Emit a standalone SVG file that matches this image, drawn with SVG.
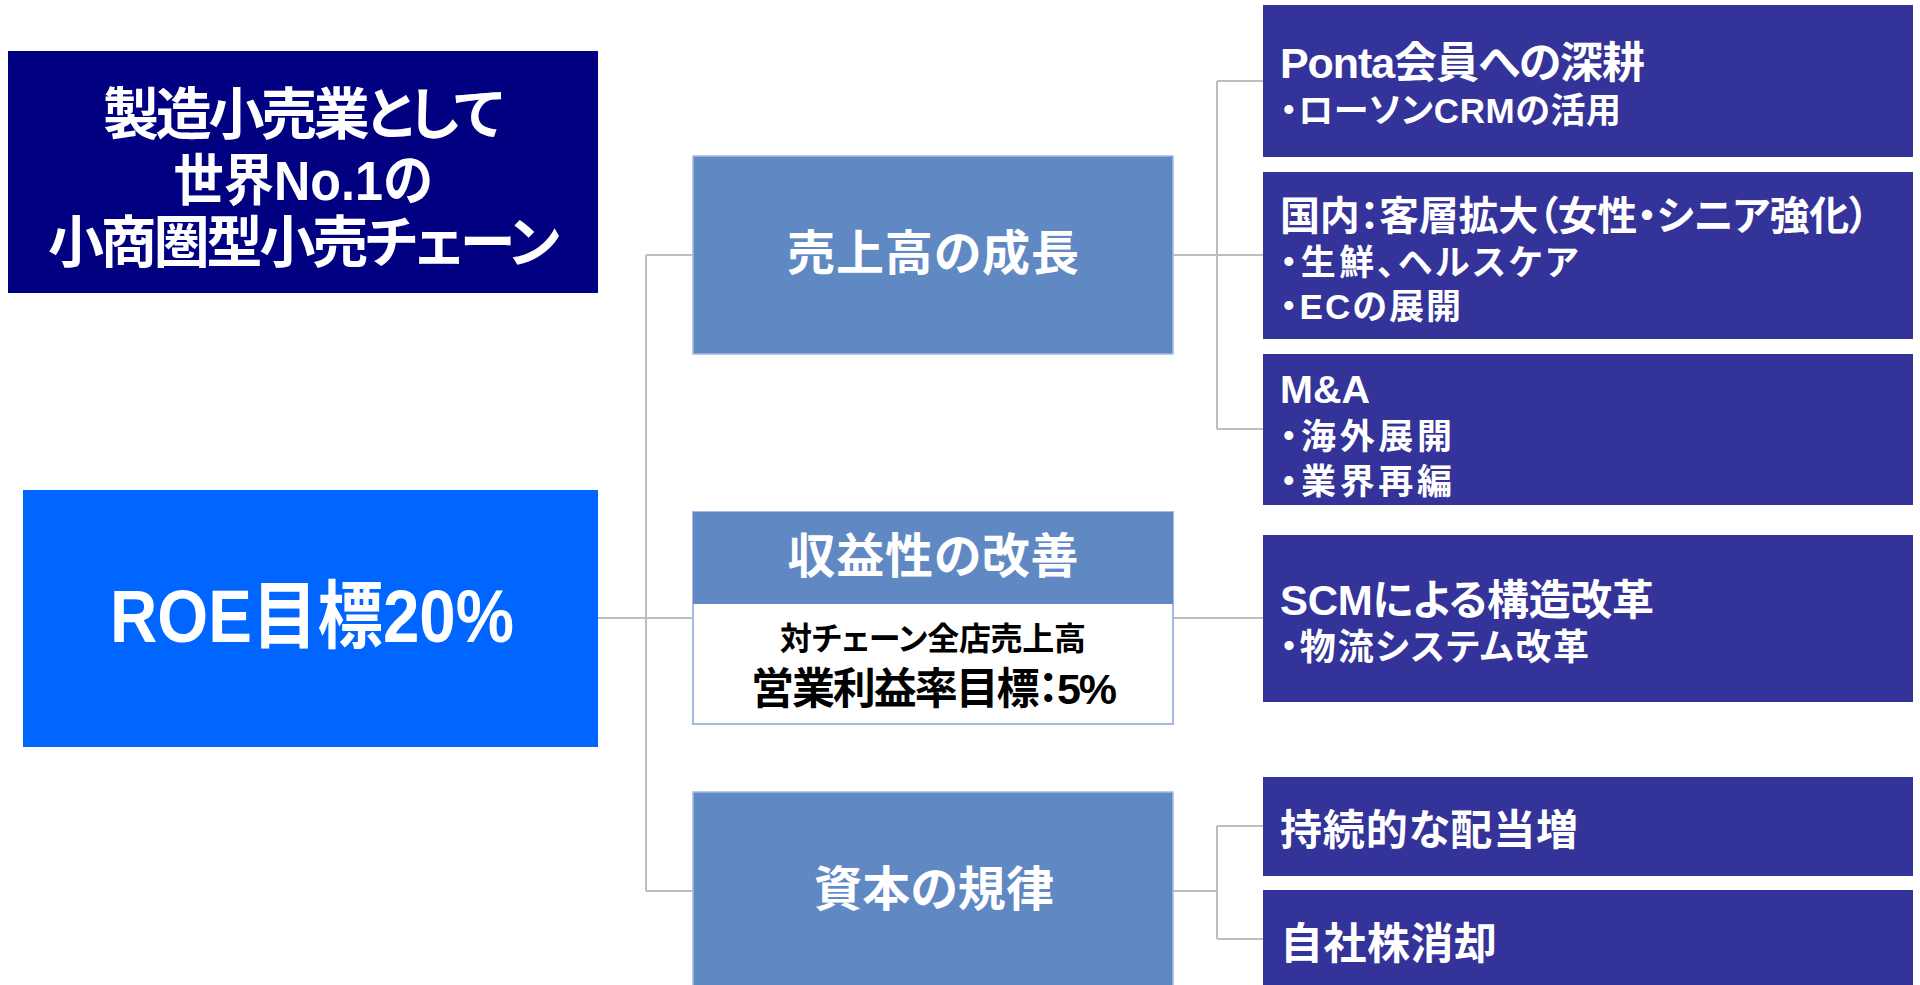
<svg xmlns="http://www.w3.org/2000/svg" width="1920" height="985" viewBox="0 0 1920 985">
<style>
text{font-family:"Liberation Sans","Noto Sans CJK JP",sans-serif;font-feature-settings:"palt";font-weight:700;fill:#fff}
.c{text-anchor:middle}
.dark{fill:#000}
.mid{fill:#6089C4;stroke:#A3BBE0;stroke-width:1.5}
.rb{fill:#343399}
.conn{fill:none;stroke:#BDBDBD;stroke-width:2}
</style>
<rect width="1920" height="985" fill="#fff"/>
<g id="connectors" class="conn">
<path d="M598,618 H646 M646,255 V891 M646,255 H693 M646,618 H693 M646,891 H693"/>
<path d="M1173,255 H1217 M1217,81 V429 M1217,81 H1263 M1217,255 H1263 M1217,429 H1263"/>
<path d="M1173,618 H1263"/>
<path d="M1173,891 H1217 M1217,826 V939 M1217,826 H1263 M1217,939 H1263"/>
</g>
<g id="vision">
<rect x="8" y="51" width="590" height="242" fill="#000080"/>
<text class="c" x="303" y="134" font-size="56" textLength="400">製造小売業として</text>
<text class="c" x="303" y="200" font-size="56" textLength="259" lengthAdjust="spacingAndGlyphs">世界No.1の</text>
<text class="c" x="304" y="262" font-size="56" textLength="512">小商圏型小売チェーン</text>
</g>
<g id="roe">
<rect x="23" y="490" width="575" height="257" fill="#0066FF"/>
<text class="c" x="312" y="642" font-size="74" font-weight="400" textLength="404" lengthAdjust="spacingAndGlyphs">ROE目標20%</text>
</g>
<g id="sales">
<rect class="mid" x="693" y="156" width="480" height="198"/>
<text class="c" x="933" y="270" font-size="48" textLength="292">売上高の成長</text>
</g>
<g id="profit">
<rect x="693" y="512" width="480" height="212" fill="#fff" stroke="#A3BBE0" stroke-width="2"/>
<rect x="693" y="512" width="480" height="92" fill="#6089C4"/>
<text class="c" x="933" y="573" font-size="48" textLength="291">収益性の改善</text>
<text class="c dark" x="933" y="650" font-size="32" textLength="306">対チェーン全店売上高</text>
<text class="c dark" x="934" y="704" font-size="43" textLength="366">営業利益率目標：5%</text>
</g>
<g id="capital">
<rect class="mid" x="693" y="792" width="480" height="198"/>
<text class="c" x="934" y="906" font-size="48" textLength="240">資本の規律</text>
</g>
<g id="ponta">
<rect class="rb" x="1263" y="5" width="650" height="152"/>
<text x="1280" y="78" font-size="43" textLength="365">Ponta会員への深耕</text>
<text x="1280" y="123" font-size="35" textLength="341">・ローソンCRMの活用</text>
</g>
<g id="domestic">
<rect class="rb" x="1263" y="172" width="650" height="167"/>
<text x="1280" y="230" font-size="40" textLength="589">国内：客層拡大（女性・シニア強化）</text>
<text x="1280" y="275" font-size="35" textLength="298">・生鮮、ヘルスケア</text>
<text x="1280" y="319" font-size="35" textLength="181">・ECの展開</text>
</g>
<g id="ma">
<rect class="rb" x="1263" y="354" width="650" height="151"/>
<text x="1280" y="403" font-size="38" textLength="90" lengthAdjust="spacingAndGlyphs">M&amp;A</text>
<text x="1280" y="449" font-size="35" textLength="172">・海外展開</text>
<text x="1280" y="494" font-size="35" textLength="172">・業界再編</text>
</g>
<g id="scm">
<rect class="rb" x="1263" y="535" width="650" height="167"/>
<text x="1280" y="615" font-size="42" textLength="374">SCMによる構造改革</text>
<text x="1280" y="660" font-size="36" textLength="309">・物流システム改革</text>
</g>
<g id="dividend">
<rect class="rb" x="1263" y="777" width="650" height="99"/>
<text x="1280" y="845" font-size="42" textLength="298">持続的な配当増</text>
</g>
<g id="buyback">
<rect class="rb" x="1263" y="890" width="650" height="99"/>
<text x="1280" y="959" font-size="43" textLength="217">自社株消却</text>
</g>
</svg>
